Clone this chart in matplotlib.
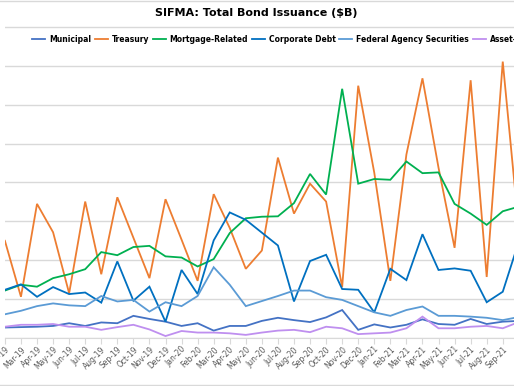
import matplotlib
matplotlib.use("Agg")
import matplotlib.pyplot as plt
from matplotlib.lines import Line2D

# monthly issuance, $B (Feb-19 .. Oct-21)
months = ["Feb-19", "Mar-19", "Apr-19", "May-19", "Jun-19", "Jul-19", "Aug-19", "Sep-19",
          "Oct-19", "Nov-19", "Dec-19", "Jan-20", "Feb-20", "Mar-20", "Apr-20", "May-20",
          "Jun-20", "Jul-20", "Aug-20", "Sep-20", "Oct-20", "Nov-20", "Dec-20", "Jan-21",
          "Feb-21", "Mar-21", "Apr-21", "May-21", "Jun-21", "Jul-21", "Aug-21", "Sep-21",
          "Oct-21"]

municipal = [27, 28, 29, 31, 38, 31, 40, 38, 57, 49, 42, 31, 38, 19, 31, 31,
             44, 52, 46, 41, 53, 72, 21, 35, 27, 34, 48, 36, 34, 49, 36, 42, 44]
treasury = [250, 106, 345, 272, 115, 351, 164, 362, 258, 154, 357, 253, 147, 370, 283, 178,
            225, 464, 320, 397, 351, 131, 649, 425, 147, 472, 668, 438, 232, 663, 157, 711, 280]
mortgage = [122, 137, 132, 154, 164, 177, 221, 213, 234, 237, 210, 207, 184, 203, 270, 308,
            312, 313, 347, 422, 369, 641, 397, 409, 407, 454, 424, 426, 345, 320, 291, 326, 338]
corporate = [124, 138, 106, 131, 113, 117, 91, 197, 96, 132, 42, 175, 113, 251, 323, 304,
             271, 238, 94, 198, 214, 126, 124, 66, 178, 149, 267, 175, 179, 173, 92, 119, 248]
agency = [61, 70, 82, 89, 84, 82, 108, 94, 98, 68, 92, 82, 108, 182, 137, 82,
          95, 108, 122, 122, 105, 98, 82, 66, 57, 72, 81, 57, 57, 55, 52, 46, 54]
abs_ = [29, 34, 34, 36, 29, 29, 21, 28, 34, 22, 5, 18, 14, 14, 12, 8,
        14, 19, 21, 15, 29, 25, 10, 12, 14, 25, 55, 25, 25, 29, 31, 25, 41]

series = [
    ("Municipal", municipal, "#4472C4"),
    ("Treasury", treasury, "#ED7D31"),
    ("Mortgage-Related", mortgage, "#00B050"),
    ("Corporate Debt", corporate, "#0070C0"),
    ("Federal Agency Securities", agency, "#5B9BD5"),
    ("Asset-Backed", abs_, "#BF8FEF"),
]

W, H = 514, 386
fig = plt.figure(figsize=(W / 100, H / 100), dpi=100)

# plot area: first month at x=5px, 0 at y=338px, 100 per 38.9px
x0, step = 4.9, 16.06
ymax = 805
bottom_px = 338
top_px = bottom_px - ymax * 311 / 800
ax = fig.add_axes([x0 / W, (H - bottom_px) / H, 1 - x0 / W, (bottom_px - top_px) / H])

xs = list(range(len(months)))
for name, vals, col in series:
    ax.plot(xs, vals, color=col, lw=1.3, label=name, solid_joinstyle="miter")

xmax = (W - x0) / step
ax.set_xlim(0, xmax)
ax.set_ylim(0, ymax)
ax.set_yticks(range(0, 801, 100))
ax.set_yticklabels([])
ax.tick_params(axis="y", length=0)
ax.grid(axis="y", color="#d9d9d9", lw=1)
ax.set_axisbelow(True)
shown = [i for i in xs if i <= xmax]
ax.set_xticks(shown)
ax.set_xticklabels([months[i] for i in shown], rotation=45, ha="right",
                   rotation_mode="anchor", fontsize=5.5, color="#595959")
ax.tick_params(axis="x", length=4, color="#d9d9d9", pad=1)
for s in ["top", "left", "right"]:
    ax.spines[s].set_visible(False)
ax.spines["bottom"].set_color("#d9d9d9")

fig.text(256 / W, 1 - 13 / H, "SIFMA: Total Bond Issuance ($B)", ha="center", va="center",
         fontsize=8, fontweight="bold", color="#000000")

handles = [Line2D([], [], color=c, lw=1.3) for _, _, c in series]
fig.legend(handles, [n for n, _, _ in series], ncol=6, loc="center left",
           bbox_to_anchor=(32 / W, 1 - 39.5 / H), frameon=False, borderpad=0,
           borderaxespad=0, handlelength=1.7, handletextpad=0.5, columnspacing=0.5,
           prop={"size": 5.5, "weight": "bold"})

# thin frame lines of the original screenshot
fig.add_artist(Line2D([0, 1], [1 - 0.5 / H, 1 - 0.5 / H], color="#d9d9d9", lw=1,
                      transform=fig.transFigure))
fig.add_artist(Line2D([0, 1], [1 - 385 / H, 1 - 385 / H], color="#d9d9d9", lw=1,
                      transform=fig.transFigure))

fig.savefig("out.png", dpi=100)
